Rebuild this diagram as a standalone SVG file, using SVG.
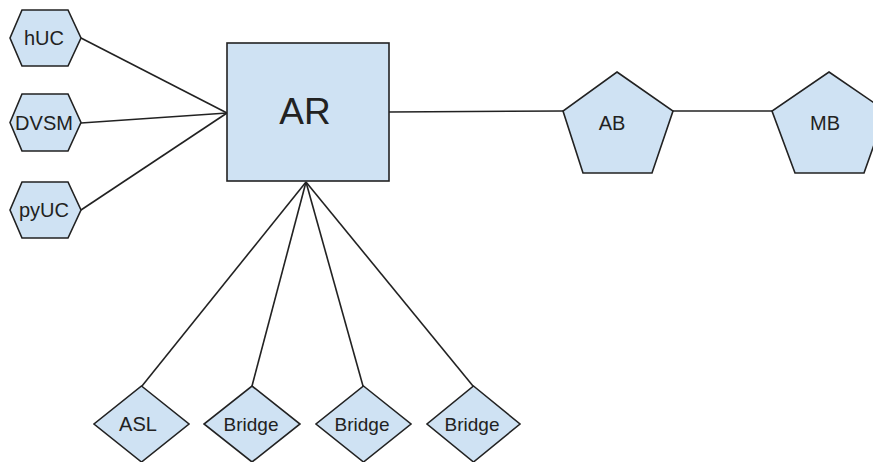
<svg xmlns="http://www.w3.org/2000/svg" width="873" height="462" viewBox="0 0 873 462">
<style>
.n{fill:#cfe2f3;stroke:#222;stroke-width:1.6;stroke-linejoin:miter}
.t{font-family:"Liberation Sans",Arial,sans-serif;fill:#222;text-anchor:middle}
.c{stroke:#222;stroke-width:1.6;fill:none}
</style>
<rect width="873" height="462" fill="#fff"/>
<g id="connectors">
<line class="c" x1="81" y1="38" x2="227" y2="113"/>
<line class="c" x1="81" y1="123" x2="227" y2="113"/>
<line class="c" x1="81" y1="210" x2="227" y2="113"/>
<line class="c" x1="389" y1="112" x2="563" y2="111"/>
<line class="c" x1="673" y1="111" x2="772" y2="111"/>
<line class="c" x1="306" y1="182" x2="142" y2="386"/>
<line class="c" x1="306" y1="182" x2="252" y2="386"/>
<line class="c" x1="306" y1="182" x2="363" y2="386"/>
<line class="c" x1="306" y1="182" x2="473" y2="386"/>
</g>
<g id="hUC">
<polygon class="n" points="10,38 22,10 68,10 81,38 68,66 22,66"/>
<text class="t" x="44" y="45" font-size="20">hUC</text>
</g>
<g id="DVSM">
<polygon class="n" points="10,122.5 22,94 68,94 81,122.5 68,151 22,151"/>
<text class="t" x="44" y="130" font-size="20">DVSM</text>
</g>
<g id="pyUC">
<polygon class="n" points="10,210 22,182 68,182 81,210 68,238 22,238"/>
<text class="t" x="44" y="217" font-size="20">pyUC</text>
</g>
<g id="AR">
<rect class="n" x="227" y="43" width="162" height="138" stroke-width="2"/>
<text class="t" x="305" y="124" font-size="37">AR</text>
</g>
<g id="AB">
<polygon class="n" points="617,72 673,111 652,173 583,173 563,111"/>
<text class="t" x="612" y="130" font-size="20">AB</text>
</g>
<g id="MB">
<polygon class="n" points="829,72 886,111 864,173 795,173 772,111"/>
<text class="t" x="825" y="130" font-size="20">MB</text>
</g>
<g id="ASL">
<polygon class="n" points="141.5,386 189,424 141.5,462 94,424"/>
<text class="t" x="138" y="431" font-size="20">ASL</text>
</g>
<g id="Bridge1">
<polygon class="n" points="252,386 300,424 252,462 204,424"/>
<text class="t" x="251" y="431" font-size="19">Bridge</text>
</g>
<g id="Bridge2">
<polygon class="n" points="363.5,386 411,424 363.5,462 316,424"/>
<text class="t" x="362" y="431" font-size="19">Bridge</text>
</g>
<g id="Bridge3">
<polygon class="n" points="473.5,386 520,424 473.5,462 427,424"/>
<text class="t" x="472" y="431" font-size="19">Bridge</text>
</g>
</svg>
